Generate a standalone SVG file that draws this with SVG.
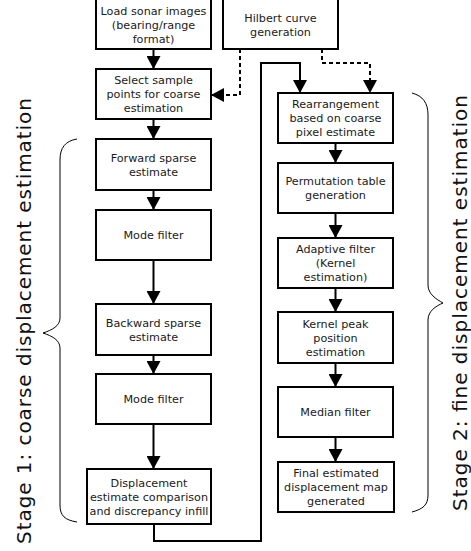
<svg xmlns="http://www.w3.org/2000/svg" width="471" height="551" viewBox="0 0 471 551">
<style>
  .box{fill:#fff;stroke:#000;stroke-width:2}
  .t{font-family:"DejaVu Sans",sans-serif;font-size:11.2px;fill:#1a1a1a;text-anchor:middle}
  .c{fill:none;stroke:#000;stroke-width:2}
  .d{fill:none;stroke:#000;stroke-width:2;stroke-dasharray:4 3}
  .br{fill:none;stroke:#000;stroke-width:1}
  .st{font-family:"DejaVu Sans",sans-serif;font-size:20px;fill:#111}
</style>
<defs>
  <marker id="ah" markerUnits="userSpaceOnUse" markerWidth="14" markerHeight="14" refX="13" refY="7" orient="auto">
    <path d="M0,0 L13,7 L0,14 z" fill="#000"/>
  </marker>
</defs>
<g id="connectors">
  <path class="c" d="M153.5,49 V69" marker-end="url(#ah)"/>
  <path class="c" d="M153.5,119 V139" marker-end="url(#ah)"/>
  <path class="c" d="M153.5,190 V210" marker-end="url(#ah)"/>
  <path class="c" d="M153.5,260 V304" marker-end="url(#ah)"/>
  <path class="c" d="M153.5,355 V374" marker-end="url(#ah)"/>
  <path class="c" d="M153.5,424 V469" marker-end="url(#ah)"/>
  <path class="c" d="M154,524 V541 H261 V63 H300 V93" marker-end="url(#ah)"/>
  <path class="c" d="M335.5,143 V163" marker-end="url(#ah)"/>
  <path class="c" d="M335.5,213 V238" marker-end="url(#ah)"/>
  <path class="c" d="M335.5,288 V312" marker-end="url(#ah)"/>
  <path class="c" d="M335.5,363 V387" marker-end="url(#ah)"/>
  <path class="c" d="M335.5,437 V462" marker-end="url(#ah)"/>
  <path class="d" d="M240,49 V95 H211" marker-end="url(#ah)"/>
  <path class="d" d="M322,49 V63 H370 V93" marker-end="url(#ah)"/>
</g>
<g id="load">
  <rect class="box" x="96" y="-1" width="115" height="50"/>
  <text class="t" x="153.5" y="14.5">Load sonar images</text>
  <text class="t" x="153.5" y="28.5">(bearing/range</text>
  <text class="t" x="153.5" y="42.5">format)</text>
</g>
<g id="hilbert">
  <rect class="box" x="223" y="-1" width="115" height="50"/>
  <text class="t" x="280.5" y="21.5">Hilbert curve</text>
  <text class="t" x="280.5" y="35.5">generation</text>
</g>
<g id="select">
  <rect class="box" x="96" y="69" width="115" height="50"/>
  <text class="t" x="153.5" y="84">Select sample</text>
  <text class="t" x="153.5" y="98">points for coarse</text>
  <text class="t" x="153.5" y="112">estimation</text>
</g>
<g id="forward">
  <rect class="box" x="96" y="139" width="115" height="51"/>
  <text class="t" x="153.5" y="161.5">Forward sparse</text>
  <text class="t" x="153.5" y="175.5">estimate</text>
</g>
<g id="mode1">
  <rect class="box" x="96" y="210" width="115" height="50"/>
  <text class="t" x="153.5" y="239">Mode filter</text>
</g>
<g id="backward">
  <rect class="box" x="96" y="304" width="115" height="51"/>
  <text class="t" x="153.5" y="326.5">Backward sparse</text>
  <text class="t" x="153.5" y="340.5">estimate</text>
</g>
<g id="mode2">
  <rect class="box" x="96" y="374" width="115" height="50"/>
  <text class="t" x="153.5" y="403">Mode filter</text>
</g>
<g id="comparison">
  <rect class="box" x="87" y="469" width="124" height="55"/>
  <text class="t" x="149" y="486.5">Displacement</text>
  <text class="t" x="149" y="500.5">estimate comparison</text>
  <text class="t" x="149" y="514.5">and discrepancy infill</text>
</g>
<g id="rearrange">
  <rect class="box" x="278" y="93" width="115" height="50"/>
  <text class="t" x="335.5" y="108">Rearrangement</text>
  <text class="t" x="335.5" y="122">based on coarse</text>
  <text class="t" x="335.5" y="136">pixel estimate</text>
</g>
<g id="permutation">
  <rect class="box" x="278" y="163" width="115" height="50"/>
  <text class="t" x="335.5" y="185">Permutation table</text>
  <text class="t" x="335.5" y="199">generation</text>
</g>
<g id="adaptive">
  <rect class="box" x="278" y="238" width="115" height="50"/>
  <text class="t" x="335.5" y="253">Adaptive filter</text>
  <text class="t" x="335.5" y="267">(Kernel</text>
  <text class="t" x="335.5" y="281">estimation)</text>
</g>
<g id="kernelpeak">
  <rect class="box" x="278" y="312" width="115" height="51"/>
  <text class="t" x="335.5" y="327.5">Kernel peak</text>
  <text class="t" x="335.5" y="341.5">position</text>
  <text class="t" x="335.5" y="355.5">estimation</text>
</g>
<g id="median">
  <rect class="box" x="278" y="387" width="115" height="50"/>
  <text class="t" x="335.5" y="416">Median filter</text>
</g>
<g id="final">
  <rect class="box" x="278" y="462" width="116" height="50"/>
  <text class="t" x="336" y="477">Final estimated</text>
  <text class="t" x="336" y="491">displacement map</text>
  <text class="t" x="336" y="505">generated</text>
</g>
<g id="stage1">
  <path class="br" d="M77,139 C65,141 60,148 60,160 V318 C60,326 52,330 43,333 C52,336 60,340 60,348 V505 C60,516 65,520 77,522"/>
  <text class="st" transform="translate(31,321) rotate(-90)" text-anchor="middle" textLength="446">Stage 1: coarse displacement estimation</text>
</g>
<g id="stage2">
  <path class="br" d="M412,93 C423,96 428,103 428,115 V285 C428,294 436,299 443,303 C436,306 428,311 428,320 V495 C428,505 423,509 412,512"/>
  <text class="st" transform="translate(467,303) rotate(-90)" text-anchor="middle" textLength="416">Stage 2: fine displacement estimation</text>
</g>
</svg>
